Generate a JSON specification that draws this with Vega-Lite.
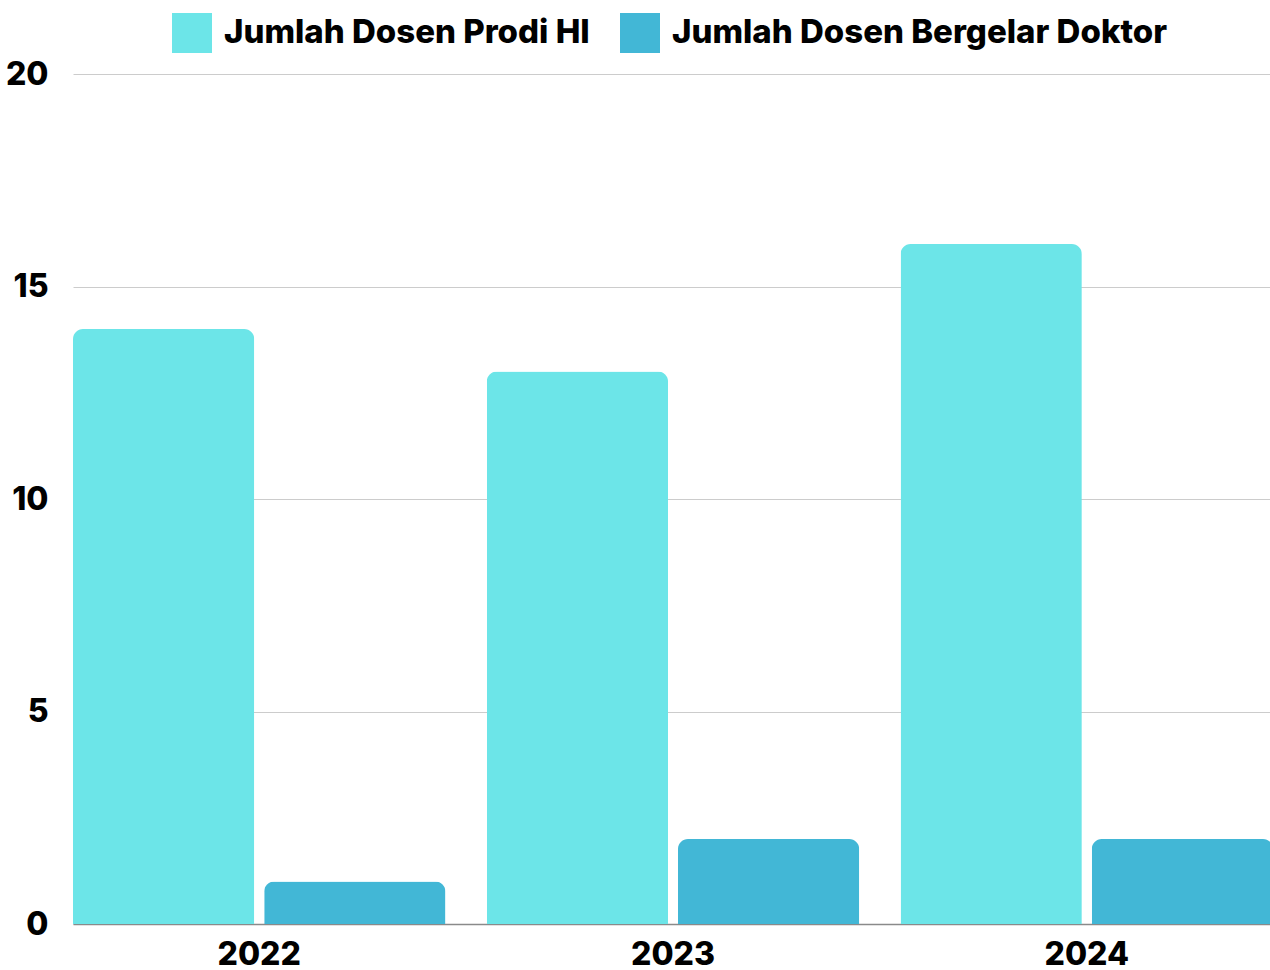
{
  "$schema": "https://vega.github.io/schema/vega-lite/v6.json",
  "autosize": "none",
  "width": 1200,
  "height": 850,
  "padding": {"left": 73, "top": 74, "right": 0, "bottom": 46},
  "background": "white",
  "data": {
    "values": [
      {"tahun": "2022", "seri": "Jumlah Dosen Prodi HI", "jumlah": 14},
      {"tahun": "2022", "seri": "Jumlah Dosen Bergelar Doktor", "jumlah": 1},
      {"tahun": "2023", "seri": "Jumlah Dosen Prodi HI", "jumlah": 13},
      {"tahun": "2023", "seri": "Jumlah Dosen Bergelar Doktor", "jumlah": 2},
      {"tahun": "2024", "seri": "Jumlah Dosen Prodi HI", "jumlah": 16},
      {"tahun": "2024", "seri": "Jumlah Dosen Bergelar Doktor", "jumlah": 2}
    ]
  },
  "mark": {"type": "bar", "cornerRadiusTopLeft": 10, "cornerRadiusTopRight": 10},
  "encoding": {
    "x": {
      "field": "tahun",
      "type": "nominal",
      "title": null,
      "scale": {"paddingInner": 0.1, "paddingOuter": 0},
      "axis": {
        "labelAngle": 0,
        "labelFont": "Inter",
        "labelFontWeight": 800,
        "labelFontSize": 32,
        "labelColor": "#000000",
        "labelPadding": 15,
        "ticks": false,
        "tickSize": 0,
        "domainColor": "#8a8a8a",
        "domainWidth": 1.5,
        "grid": false
      }
    },
    "xOffset": {
      "field": "seri",
      "type": "nominal",
      "sort": ["Jumlah Dosen Prodi HI", "Jumlah Dosen Bergelar Doktor"],
      "scale": {"paddingInner": 0.052, "paddingOuter": 0}
    },
    "y": {
      "field": "jumlah",
      "type": "quantitative",
      "title": null,
      "scale": {"domain": [0, 20], "nice": false},
      "axis": {
        "values": [0, 5, 10, 15, 20],
        "labelFont": "Inter",
        "labelFontWeight": 800,
        "labelFontSize": 32,
        "labelColor": "#000000",
        "labelPadding": 25,
        "ticks": false,
        "tickSize": 0,
        "domain": false,
        "gridColor": "#cccccc",
        "gridWidth": 1
      }
    },
    "color": {
      "field": "seri",
      "type": "nominal",
      "title": null,
      "scale": {
        "domain": ["Jumlah Dosen Prodi HI", "Jumlah Dosen Bergelar Doktor"],
        "range": ["#6ce5e8", "#42b7d6"]
      },
      "legend": {
        "orient": "none",
        "legendX": 99,
        "legendY": -61,
        "direction": "horizontal",
        "symbolType": "square",
        "symbolSize": 1600,
        "symbolStrokeWidth": 0,
        "symbolOpacity": 1,
        "labelFont": "Inter",
        "labelFontWeight": 800,
        "labelFontSize": 33,
        "labelColor": "#000000",
        "labelOffset": 12,
        "labelLimit": 600,
        "columnPadding": 30,
        "padding": 0
      }
    }
  },
  "config": {"view": {"stroke": null}}
}
